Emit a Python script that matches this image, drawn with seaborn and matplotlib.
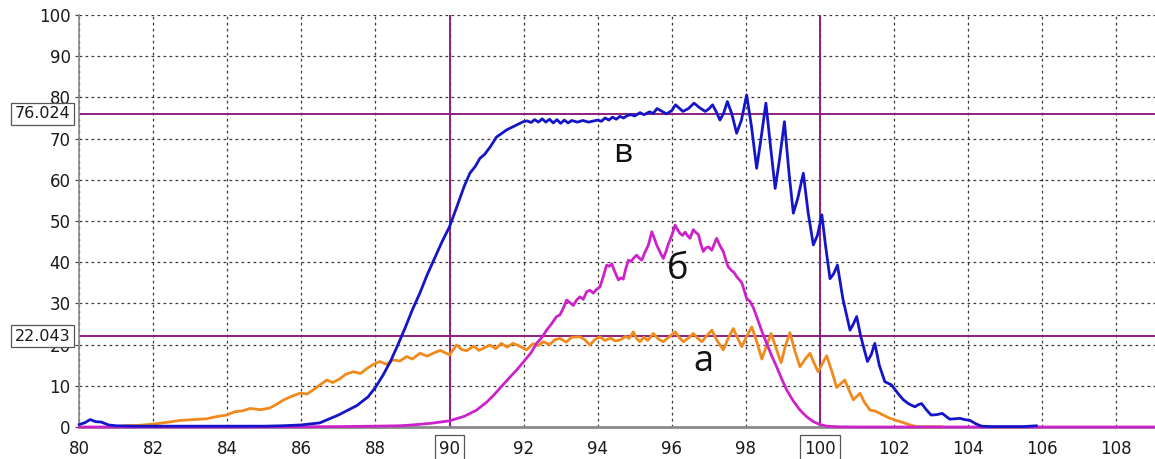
import numpy as np
import pandas as pd
import matplotlib
matplotlib.use("Agg")
import matplotlib.pyplot as plt
import matplotlib.transforms as mtransforms
import seaborn as sns

# ---------------- data ----------------
blue_x = [80.0, 80.15, 80.3, 80.45, 80.6, 80.8, 81.0, 81.5, 82.0, 82.5, 83.0, 83.5, 84.0, 84.5, 85.0, 85.5,
          86.0, 86.5, 87.0, 87.5, 87.8, 88.0, 88.2, 88.4, 88.6, 88.8, 89.0, 89.2, 89.4, 89.6, 89.8, 90.0,
          90.2, 90.4, 90.55, 90.7, 90.82, 90.95, 91.1, 91.27, 91.4, 91.54, 91.7, 91.81, 91.99, 92.1, 92.2,
          92.3, 92.4, 92.5, 92.6, 92.7, 92.8, 92.9, 93.0, 93.1, 93.2, 93.3, 93.45, 93.6, 93.75, 93.9, 94.0,
          94.1, 94.2, 94.3, 94.4, 94.5, 94.6, 94.7, 94.8, 94.9, 95.0, 95.14, 95.25, 95.4, 95.5, 95.6, 95.7,
          95.86, 96.0, 96.1, 96.2, 96.3, 96.45, 96.6, 96.75, 96.9, 97.0, 97.1, 97.2, 97.3, 97.4, 97.5, 97.62,
          97.75, 97.88, 98.02, 98.15, 98.29, 98.4, 98.54, 98.66, 98.79, 98.9, 99.04, 99.16, 99.28, 99.4,
          99.55, 99.68, 99.82, 99.93, 100.05, 100.15, 100.27, 100.37, 100.47, 100.62, 100.81, 100.9, 100.99,
          101.1, 101.28, 101.38, 101.48, 101.6, 101.75, 101.93, 102.1, 102.25, 102.4, 102.56, 102.65, 102.74,
          102.87, 103.0, 103.15, 103.3, 103.5, 103.65, 103.78, 103.9, 104.05, 104.2, 104.36, 104.6, 105.0,
          105.5, 105.85]
blue_y = [0.6, 1.0, 1.8, 1.3, 1.2, 0.5, 0.3, 0.2, 0.2, 0.2, 0.2, 0.2, 0.2, 0.2, 0.2, 0.3,
          0.5, 1.0, 2.9, 5.2, 7.3, 9.6, 12.5, 15.8, 19.8, 24.0, 28.5, 32.5, 37.0, 41.0, 45.0, 48.6,
          53.5, 58.5, 61.6, 63.3, 65.2, 66.2, 68.0, 70.4, 71.2, 72.1, 72.8, 73.3, 74.1, 74.3, 73.9,
          74.6, 74.0, 74.8, 74.0, 74.7, 73.8, 74.6, 73.7, 74.5, 73.8, 74.4, 74.0, 74.4, 74.0, 74.3, 74.5,
          74.2, 75.0, 74.5, 75.2, 74.7, 75.4, 75.0, 75.6, 75.8, 75.5, 76.3, 75.8, 76.5, 76.1, 77.3, 76.8,
          76.0, 76.8, 78.2, 77.4, 76.6, 77.3, 78.6, 77.5, 76.6, 77.2, 78.2, 76.5, 74.5, 76.2, 79.0, 76.0,
          71.3, 74.5, 80.6, 73.0, 62.8, 69.5, 78.6, 68.5, 57.9, 64.5, 74.1, 62.0, 51.9, 55.5,
          61.6, 52.0, 44.2, 46.5, 51.5, 44.0, 36.0, 37.2, 39.3, 31.0, 23.5, 25.0, 26.8,
          22.0, 15.9, 17.5, 20.3, 15.0, 11.0, 10.2, 8.2, 6.6, 5.6, 4.9, 5.4, 5.7,
          4.2, 2.9, 3.0, 3.3, 1.9, 2.0, 2.1, 1.8, 1.6, 0.8, 0.2, 0.1, 0.1,
          0.1, 0.3]

magenta_x = [80.0, 82.0, 84.0, 86.0, 87.0, 88.0, 88.66, 89.0, 89.5, 90.0, 90.4, 90.73, 91.0, 91.2, 91.36,
             91.6, 91.81, 92.08, 92.2, 92.35, 92.5, 92.62, 92.75, 92.89, 92.98, 93.08, 93.16, 93.25, 93.34,
             93.43, 93.52, 93.61, 93.7, 93.79, 93.88, 93.97, 94.06, 94.15, 94.24, 94.31, 94.38, 94.47, 94.56,
             94.63, 94.69, 94.76, 94.83, 94.9, 94.97, 95.05, 95.12, 95.19, 95.28, 95.37, 95.46, 95.52, 95.59,
             95.68, 95.77, 95.84, 95.91, 96.0, 96.09, 96.15, 96.22, 96.29, 96.36, 96.42, 96.49, 96.58, 96.65,
             96.72, 96.78, 96.85, 96.92, 96.99, 97.08, 97.15, 97.21, 97.3, 97.39, 97.46, 97.52, 97.61, 97.68,
             97.75, 97.82, 97.89, 97.96, 98.02, 98.11, 98.2, 98.29, 98.42, 98.56, 98.7, 98.83, 98.97, 99.1,
             99.28, 99.46, 99.64, 99.82, 100.0, 100.18, 100.5, 101.0, 103.0, 106.0, 109.1]
magenta_y = [0.0, 0.0, 0.0, 0.05, 0.1, 0.2, 0.3, 0.5, 0.9, 1.5, 2.6, 4.1, 6.0, 7.8, 9.4,
             11.8, 13.8, 16.7, 18.0, 20.3, 21.8, 23.5, 25.0, 26.8, 27.2, 29.0, 30.8, 30.2, 29.5,
             30.8, 31.6, 31.0, 32.8, 33.2, 32.5, 33.4, 34.0, 36.5, 39.3, 39.0, 39.6, 37.5, 35.7,
             36.2, 35.9, 38.5, 40.5, 40.2, 41.0, 41.7, 41.0, 40.5, 42.5, 44.2, 47.4, 46.0, 44.2,
             42.5, 40.9, 42.5, 44.5, 46.5, 49.0, 48.0, 47.0, 46.5, 47.3, 46.5, 45.8, 47.9, 47.2,
             46.7, 44.5, 42.6, 43.5, 43.7, 42.9, 44.5, 45.8, 44.0, 42.6, 40.5, 38.9, 38.0, 37.5,
             36.5, 35.8, 35.0, 33.0, 31.2, 30.5, 29.0, 26.8, 23.5, 20.3, 17.2, 14.6, 11.6, 9.0,
             6.3, 4.1, 2.5, 1.3, 0.6, 0.2, 0.05, 0.0, 0.0, 0.0, 0.0]

orange_x = [81.2, 81.6, 82.0, 82.35, 82.73, 83.1, 83.45, 83.7, 83.99, 84.2, 84.4, 84.62, 84.9, 85.15, 85.35,
            85.51, 85.7, 85.96, 86.15, 86.32, 86.5, 86.69, 86.85, 87.04, 87.2, 87.4, 87.6, 87.77, 87.95,
            88.12, 88.3, 88.48, 88.66, 88.84, 89.0, 89.2, 89.4, 89.56, 89.75, 90.0, 90.19, 90.33, 90.46,
            90.65, 90.8, 90.91, 91.09, 91.25, 91.4, 91.55, 91.72, 91.9, 92.08, 92.25, 92.4, 92.53, 92.7,
            92.85, 92.98, 93.15, 93.3, 93.52, 93.65, 93.79, 93.92, 94.06, 94.2, 94.35, 94.47, 94.6, 94.75,
            94.85, 94.96, 95.05, 95.14, 95.25, 95.35, 95.5, 95.63, 95.77, 95.92, 96.09, 96.2, 96.31, 96.45,
            96.58, 96.7, 96.81, 96.95, 97.08, 97.22, 97.39, 97.52, 97.66, 97.78, 97.89, 98.02, 98.16, 98.3,
            98.43, 98.56, 98.68, 98.8, 98.95, 99.07, 99.19, 99.32, 99.46, 99.6, 99.73, 99.84, 99.95, 100.07,
            100.18, 100.32, 100.45, 100.56, 100.67, 100.78, 100.9, 101.0, 101.08, 101.2, 101.35, 101.48,
            101.62, 101.75, 101.89, 102.02, 102.16, 102.3, 102.43, 102.6, 103.3]
orange_y = [0.3, 0.4, 0.7, 1.1, 1.6, 1.8, 2.0, 2.5, 2.9, 3.7, 3.9, 4.5, 4.2, 4.6, 5.6,
            6.5, 7.3, 8.2, 8.0, 9.0, 10.2, 11.4, 10.8, 11.7, 12.8, 13.4, 13.0, 14.2, 15.2,
            15.9, 15.2, 16.3, 16.0, 17.1, 16.5, 17.9, 17.2, 17.9, 18.6, 17.5, 19.9, 18.8, 18.5,
            19.6, 18.6, 19.1, 19.9, 19.0, 20.3, 19.4, 20.3, 19.6, 18.7, 20.2, 19.8, 20.7, 20.0,
            21.2, 21.5, 20.6, 21.8, 21.9, 21.2, 19.9, 21.2, 21.9, 21.0, 21.6, 20.9, 21.1, 22.0,
            21.5, 23.1, 21.5, 20.7, 21.8, 21.0, 22.7, 21.4, 20.7, 21.8, 23.1, 21.7, 20.7, 21.6,
            22.7, 21.5, 20.7, 22.2, 23.5, 21.0, 18.7, 21.5, 23.9, 21.5, 19.5, 22.0, 24.3, 20.5,
            16.5, 19.8, 22.7, 19.5, 15.6, 19.8, 22.9, 18.5, 14.6, 16.5, 17.9, 15.5, 13.4, 15.5,
            17.3, 13.5, 9.6, 10.5, 11.4, 9.0, 6.6, 7.5, 8.2, 6.0, 4.1, 3.9,
            3.3, 2.7, 2.1, 1.7, 1.3, 0.9, 0.5, 0.1, 0.05]

x_ticks = [80, 82, 84, 86, 88, 90, 92, 94, 96, 98, 100, 102, 104, 106, 108]
y_ticks = [0, 10, 20, 30, 40, 50, 60, 70, 80, 90, 100]
boxed_x_ticks = ["90", "100"]
h_markers = [76.024, 22.043]
v_markers = [90, 100]
labels = ["в", "б", "а"]
label_x = [94.67, 96.15, 96.86]
label_y = [66.5, 38.1, 15.8]

# ---------------- style ----------------
sns.set_theme(style="white")
plt.rcParams["font.family"] = ["DejaVu Sans"]

BLUE = "#1414C8"
MAGENTA = "#CC22CC"
ORANGE = "#F08A1C"
PURPLE = "#8E1F7F"

fig = plt.figure(figsize=(11.55, 4.59), dpi=100)
ax = fig.add_axes([79 / 1155, 32 / 459, 1076 / 1155, 412 / 459])

df_o = pd.DataFrame({"x": orange_x, "y": orange_y})
df_m = pd.DataFrame({"x": magenta_x, "y": magenta_y})
df_b = pd.DataFrame({"x": blue_x, "y": blue_y})

for df, col, z in [(df_o, ORANGE, 3), (df_m, MAGENTA, 4), (df_b, BLUE, 5)]:
    sns.lineplot(data=df, x="x", y="y", ax=ax, color=col, linewidth=2.0,
                 estimator=None, sort=False, zorder=z, clip_on=False,
                 solid_joinstyle="round", solid_capstyle="round")

for v in v_markers:
    ax.axvline(v, color=PURPLE, linewidth=1.4, zorder=2)
for h in h_markers:
    ax.axhline(h, color=PURPLE, linewidth=1.4, zorder=2)

ax.set_xlim(80, 80 + 1076 / 37.05)
ax.set_ylim(0, 100)
ax.set_xticks(x_ticks)
ax.set_xticklabels([str(t) for t in x_ticks])
ax.set_yticks(y_ticks)
ax.set_yticklabels([str(t) for t in y_ticks])
ax.set_xlabel("")
ax.set_ylabel("")

ax.grid(True, color="#3a3a3a", linestyle=(0, (2.2, 2.6)), linewidth=0.9)
ax.set_axisbelow(True)

for s in ["top", "right"]:
    ax.spines[s].set_visible(False)
ax.spines["left"].set_color("#8a8a8a")
ax.spines["left"].set_linewidth(1.2)
ax.spines["bottom"].set_color("#8a8a8a")
ax.spines["bottom"].set_linewidth(2.0)

ax.tick_params(axis="y", which="both", left=True, length=3, width=0.9, color="#444444",
               labelsize=12, pad=3, labelcolor="#1a1a1a")
ax.tick_params(axis="x", which="both", bottom=False, length=0, labelsize=12, pad=9,
               labelcolor="#1a1a1a")

for lbl in ax.get_xticklabels():
    if lbl.get_text() in boxed_x_ticks:
        lbl.set_bbox(dict(boxstyle="square,pad=0.25", fc="white", ec="#555555", lw=0.9))

trans = mtransforms.blended_transform_factory(ax.transAxes, ax.transData)
for h in h_markers:
    ax.text(-9 / 1076, h, f"{h:.3f}", transform=trans, ha="right", va="center",
            fontsize=11.5, color="#1a1a1a", zorder=10, clip_on=False,
            bbox=dict(boxstyle="square,pad=0.22", fc="white", ec="#555555", lw=0.9))

for t, xx, yy, fs in zip(labels, label_x, label_y, [24, 26, 26]):
    ax.text(xx, yy, t, ha="center", va="center", fontsize=fs, color="#111111",
            family=["Open Sans", "DejaVu Sans"], zorder=8)

fig.savefig("out.png", dpi=100)
